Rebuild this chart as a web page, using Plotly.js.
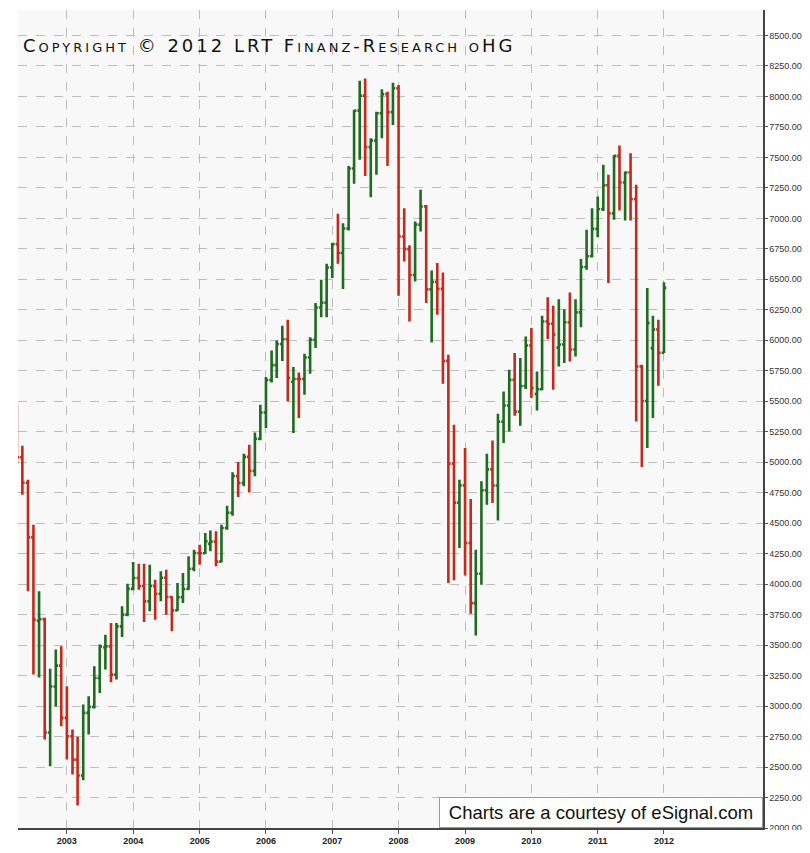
<!DOCTYPE html>
<html>
<head>
<meta charset="utf-8">
<script src="https://cdn.plot.ly/plotly-3.0.1.min.js"></script>
<style>html,body{margin:0;padding:0;background:#ffffff;}#chart{width:810px;height:853px;}</style>
</head>
<body>
<div id="chart"></div>
<script>
// Monthly bars, Apr 2002 .. Jan 2012
const months = [
 '2002-04-01','2002-05-01','2002-06-01','2002-07-01','2002-08-01','2002-09-01','2002-10-01','2002-11-01','2002-12-01',
 '2003-01-01','2003-02-01','2003-03-01','2003-04-01','2003-05-01','2003-06-01','2003-07-01','2003-08-01','2003-09-01','2003-10-01','2003-11-01','2003-12-01',
 '2004-01-01','2004-02-01','2004-03-01','2004-04-01','2004-05-01','2004-06-01','2004-07-01','2004-08-01','2004-09-01','2004-10-01','2004-11-01','2004-12-01',
 '2005-01-01','2005-02-01','2005-03-01','2005-04-01','2005-05-01','2005-06-01','2005-07-01','2005-08-01','2005-09-01','2005-10-01','2005-11-01','2005-12-01',
 '2006-01-01','2006-02-01','2006-03-01','2006-04-01','2006-05-01','2006-06-01','2006-07-01','2006-08-01','2006-09-01','2006-10-01','2006-11-01','2006-12-01',
 '2007-01-01','2007-02-01','2007-03-01','2007-04-01','2007-05-01','2007-06-01','2007-07-01','2007-08-01','2007-09-01','2007-10-01','2007-11-01','2007-12-01',
 '2008-01-01','2008-02-01','2008-03-01','2008-04-01','2008-05-01','2008-06-01','2008-07-01','2008-08-01','2008-09-01','2008-10-01','2008-11-01','2008-12-01',
 '2009-01-01','2009-02-01','2009-03-01','2009-04-01','2009-05-01','2009-06-01','2009-07-01','2009-08-01','2009-09-01','2009-10-01','2009-11-01','2009-12-01',
 '2010-01-01','2010-02-01','2010-03-01','2010-04-01','2010-05-01','2010-06-01','2010-07-01','2010-08-01','2010-09-01','2010-10-01','2010-11-01','2010-12-01',
 '2011-01-01','2011-02-01','2011-03-01','2011-04-01','2011-05-01','2011-06-01','2011-07-01','2011-08-01','2011-09-01','2011-10-01','2011-11-01','2011-12-01',
 '2012-01-01'
];
const openVals = [
 5400,5041,4832,4384,3700,3713,2783,3160,3332,
 2903,2752,2561,2430,2944,2993,3230,3480,3490,3258,3654,3750,
 3961,4050,3985,3859,3985,3921,4052,3895,3785,3893,3960,4126,
 4256,4254,4330,4349,4185,4460,4586,4886,4829,5044,4929,5193,
 5408,5674,5796,5970,6009,5660,5683,5682,5859,6004,6269,6309,
 6597,6789,6716,6917,7409,7884,8007,7584,7638,7862,8019,7871,
 8067,6851,6748,6535,6949,7097,6418,6479,6422,5831,4988,4669,
 4810,4338,3844,4085,4770,4941,4809,5332,5465,5675,5415,5625,
 5957,5560,5598,6154,6136,5940,5966,6148,5925,6229,6601,6689,
 6914,7077,7272,7041,7514,7294,7376,7159,5785,5502,5936,6089,
 5898
];
const highVals = [
 5470,5135,4857,4488,3941,3725,3307,3463,3490,
 3162,2807,2748,3012,3080,3326,3504,3586,3682,3682,3818,4004,
 4182,4168,4168,4160,4037,4105,4119,3900,4010,4092,4228,4283,
 4324,4420,4441,4433,4488,4643,4917,5001,5070,5143,5244,5471,
 5698,5916,5998,6119,6168,5780,5736,5889,6026,6305,6496,6627,
 6800,7037,6961,7430,7889,8129,8148,7657,7875,8059,8039,8113,
 8094,7084,6780,6974,7234,7110,6572,6633,6556,5881,5307,4857,
 5116,4698,4283,4843,5070,5179,5398,5580,5758,5895,5854,6031,
 6100,5744,6201,6354,6283,6337,6254,6392,6337,6666,6906,7084,
 7180,7439,7357,7520,7598,7384,7534,7275,5800,6428,6201,6168,
 6477
];
const lowVals = [
 4990,4734,3941,3258,3234,2725,2507,2996,2834,
 2561,2439,2184,2392,2766,2980,3108,3299,3195,3217,3567,3736,
 3950,3955,3690,3777,3709,3859,3750,3613,3780,3846,3955,4105,
 4160,4250,4269,4146,4180,4447,4560,4715,4802,4752,4884,5180,
 5280,5654,5690,5830,5498,5239,5362,5553,5725,5936,6190,6190,
 6510,6627,6420,6900,7283,7480,7348,7173,7357,7657,7430,7766,
 6365,6646,6154,6482,6892,6305,5982,6209,5643,4010,4031,4297,
 4070,3758,3578,3996,4652,4666,4523,5157,5252,5381,5299,5600,
 5526,5425,5590,6010,5594,5785,5813,5826,5867,6108,6578,6680,
 6846,7060,6469,6988,7064,6982,6982,5334,4961,5116,5362,5627,
 5895
];
const closeVals = [
 5041,4832,4384,3709,3713,2783,3160,3332,2903,
 2752,2561,2430,2944,2993,3230,3490,3490,3258,3654,3750,3961,
 4050,3985,3859,3985,3921,4052,3895,3785,3893,3960,4126,4256,
 4254,4351,4349,4185,4460,4586,4886,4829,5044,4929,5193,5408,
 5674,5796,5970,6009,5692,5683,5682,5859,6004,6269,6309,6597,
 6789,6716,6917,7409,7884,8007,7584,7638,7862,8019,7871,8067,
 6851,6748,6535,6949,7097,6418,6479,6422,5831,4988,4669,4810,
 4338,3844,4085,4770,4941,4809,5332,5465,5675,5415,5625,5957,
 5608,5598,6154,6136,6047,5966,6148,5925,6229,6601,6689,6914,
 7077,7272,7041,7514,7294,7376,7159,5785,5502,6141,6089,5898,
 6430
];
const yearTickVals = ['2003-01-01','2004-01-01','2005-01-01','2006-01-01','2007-01-01','2008-01-01','2009-01-01','2010-01-01','2011-01-01','2012-01-01'];
const yearTickText = ['2003','2004','2005','2006','2007','2008','2009','2010','2011','2012'];
const priceTicks = [2000,2250,2500,2750,3000,3250,3500,3750,4000,4250,4500,4750,5000,5250,5500,5750,6000,6250,6500,6750,7000,7250,7500,7750,8000,8250,8500];

const trace = {
  type: 'ohlc',
  x: months, open: openVals, high: highVals, low: lowVals, close: closeVals,
  increasing: {line: {color: '#1f6b1f', width: 2.6}},
  decreasing: {line: {color: '#c42a1c', width: 2.6}},
  tickwidth: 0.45,
  hoverinfo: 'skip'
};

const layout = {
  width: 810, height: 853,
  margin: {l: 18, r: 47, t: 10, b: 25, pad: 0},
  paper_bgcolor: '#ffffff',
  plot_bgcolor: '#f8f8f8',
  showlegend: false,
  xaxis: {
    type: 'date',
    range: ['2002-04-07', '2013-06-29'],
    rangeslider: {visible: false},
    tickmode: 'array', tickvals: yearTickVals, ticktext: yearTickText,
    showgrid: true, gridcolor: '#bdbdbd', griddash: 'dash', gridwidth: 1,
    showline: true, linecolor: '#444444', linewidth: 1.5,
    ticks: 'outside', ticklen: 4, tickcolor: '#555555',
    tickfont: {family: 'Liberation Sans Narrow, Arial Narrow, Liberation Sans, sans-serif', size: 9, color: '#222222', weight: 'bold'},
    zeroline: false, fixedrange: true
  },
  yaxis: {
    side: 'right',
    range: [2000, 8709],
    tickmode: 'array', tickvals: priceTicks,
    tickformat: '.2f',
    showgrid: true, gridcolor: '#bdbdbd', griddash: 'dash', gridwidth: 1,
    showline: true, linecolor: '#444444', linewidth: 1.5,
    ticks: 'outside', ticklen: 3, tickcolor: '#555555',
    tickfont: {family: 'Liberation Sans, Arial, sans-serif', size: 9, color: '#333333'},
    zeroline: false, fixedrange: true
  },
  annotations: [
    {
      xref: 'paper', yref: 'paper', x: 0.004, y: 0.957, xanchor: 'left', yanchor: 'middle',
      text: '<span style="letter-spacing:3px">Copyright © 2012 LRT Finanz-Research oHG</span>', showarrow: false,
      font: {family: 'DejaVu Sans, sans-serif', size: 18, color: '#111111', variant: 'small-caps'}
    },
    {
      xref: 'paper', yref: 'paper', x: 1, y: 0, xanchor: 'right', yanchor: 'bottom',
      text: 'Charts are a courtesy of eSignal.com', showarrow: false,
      width: 314, align: 'center',
      bgcolor: '#ffffff', bordercolor: '#9a9a9a', borderwidth: 1, borderpad: 4,
      font: {family: 'Liberation Sans, Arial, sans-serif', size: 18.5, color: '#111111'}
    },
    {
      xref: 'paper', yref: 'paper', x: 1.003, y: -0.0025, xanchor: 'left', yanchor: 'top',
      text: ' ', showarrow: false, width: 46, height: 20,
      bgcolor: '#ffffff', borderwidth: 0, borderpad: 0
    }
  ]
};

Plotly.newPlot('chart', [trace], layout, {displayModeBar: false, staticPlot: true});
</script>
</body>
</html>
